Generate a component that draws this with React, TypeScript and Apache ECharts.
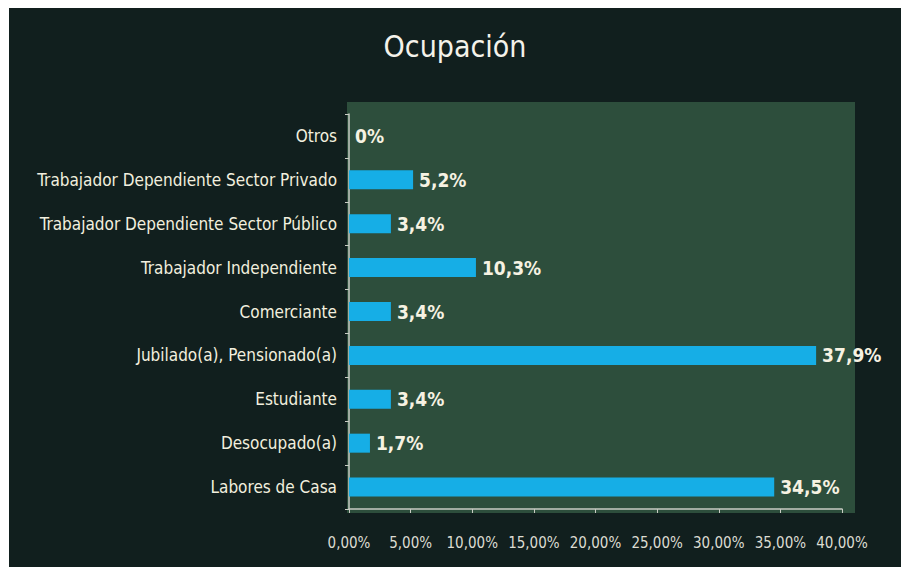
import React, { useEffect, useRef } from "react";
import * as echarts from "echarts";

const categories = [
  "Otros",
  "Trabajador Dependiente Sector Privado",
  "Trabajador Dependiente Sector Público",
  "Trabajador Independiente",
  "Comerciante",
  "Jubilado(a), Pensionado(a)",
  "Estudiante",
  "Desocupado(a)",
  "Labores de Casa",
];
const values = [0, 5.2, 3.4, 10.3, 3.4, 37.9, 3.4, 1.7, 34.5];
const titleText = "Ocupación";
const xMin = 0;
const xMax = 40;
const xStep = 5;

const FONT = '"Liberation Sans Narrow", "DejaVu Sans Condensed", "Arial Narrow", sans-serif';

const fmtVal = (v: number) => (v === 0 ? "0%" : v.toFixed(1).replace(".", ",") + "%");
const fmtTick = (v: number) => v.toFixed(2).replace(".", ",") + "%";

export default function App() {
  const ref = useRef<HTMLDivElement>(null);
  useEffect(() => {
    if (!ref.current) return;
    const chart = echarts.init(ref.current, undefined, { renderer: "svg" });
    chart.setOption({
      animation: false,
      backgroundColor: "#111f1e",
      title: {
        text: titleText,
        left: "center",
        top: 18,
        textStyle: { color: "#f4f2ea", fontFamily: FONT, fontSize: 30, fontWeight: "normal" },
      },
      graphic: [
        {
          type: "rect",
          z: -10,
          silent: true,
          shape: { x: 338, y: 94, width: 508, height: 411 },
          style: { fill: "#2d4e3c" },
        },
      ],
      grid: { left: 340, top: 106, width: 493, height: 395, containLabel: false },
      xAxis: {
        type: "value",
        min: xMin,
        max: xMax,
        interval: xStep,
        axisLine: { show: true, lineStyle: { color: "#c9ccc4", width: 1.5 } },
        axisTick: { show: true, length: 4, lineStyle: { color: "#c9ccc4" } },
        splitLine: { show: false },
        axisLabel: { color: "#dcdcd2", fontFamily: FONT, fontSize: 15, margin: 26, formatter: fmtTick },
      },
      yAxis: {
        type: "category",
        inverse: true,
        data: categories,
        axisLine: { show: true, lineStyle: { color: "#c9ccc4", width: 1.5 } },
        axisTick: { show: true, length: 4, lineStyle: { color: "#c9ccc4" } },
        axisLabel: { color: "#f2efdf", fontFamily: FONT, fontSize: 17, margin: 12 },
      },
      series: [
        {
          type: "bar",
          data: values,
          barWidth: 19,
          itemStyle: { color: "#16aee6" },
          label: {
            show: true,
            position: "right",
            distance: 6,
            color: "#f6f2e2",
            fontFamily: FONT,
            fontSize: 19,
            fontWeight: "bold",
            formatter: (p: any) => fmtVal(p.value),
          },
        },
      ],
    });
    return () => chart.dispose();
  }, []);
  return (
    <div style={{ position: "fixed", left: 0, top: 0, width: 901, height: 567, background: "#ffffff", overflow: "hidden" }}>
      <div ref={ref} style={{ position: "absolute", left: 9, top: 8, width: 892, height: 560 }} />
    </div>
  );
}
